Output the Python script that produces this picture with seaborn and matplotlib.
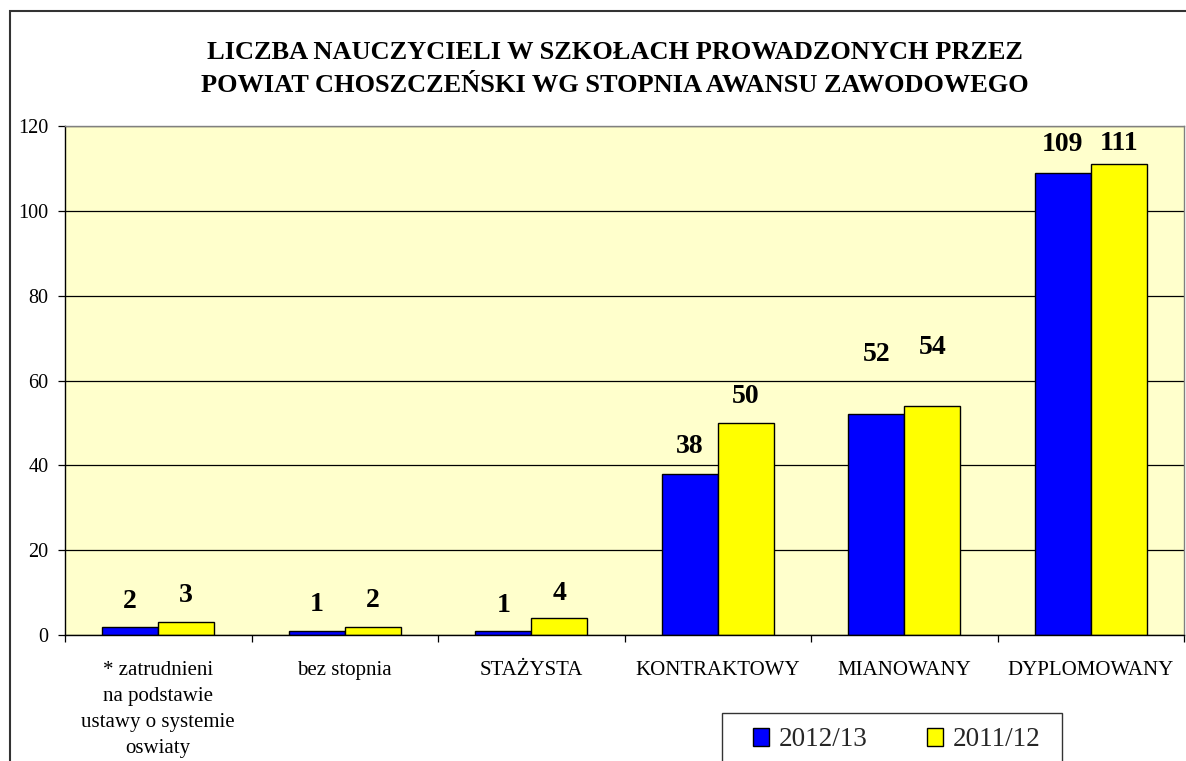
import pandas as pd
import seaborn as sns
import matplotlib.pyplot as plt
from matplotlib.patches import Rectangle
from matplotlib.ticker import FixedLocator

# data
categories = [
    "* zatrudnieni\nna podstawie\nustawy o systemie\noswiaty",
    "bez stopnia",
    "STAŻYSTA",
    "KONTRAKTOWY",
    "MIANOWANY",
    "DYPLOMOWANY",
]
series = ["2012/13", "2011/12"]
values_2012 = [2, 1, 1, 38, 52, 109]
values_2011 = [3, 2, 4, 50, 54, 111]

# label offsets above bar tops, in pixels (Excel had them moved by hand)
offsets_2012 = [25, 26, 25, 27, 60, 28]
offsets_2011 = [27, 26, 25, 26, 58, 21]

df = pd.DataFrame({
    "kategoria": categories * 2,
    "rok": [series[0]] * len(categories) + [series[1]] * len(categories),
    "liczba": values_2012 + values_2011,
})

sns.set_theme(style="white")
plt.rcParams["font.family"] = ["Liberation Serif", "DejaVu Serif"]

fig = plt.figure(figsize=(11.86, 7.61), dpi=100)
ax = fig.add_axes([65 / 1186, 1 - 635 / 761, 1119 / 1186, 509 / 761])
ax.set_facecolor("#FFFFCC")

sns.barplot(
    data=df, x="kategoria", y="liczba", hue="rok",
    order=categories, hue_order=series,
    palette={"2012/13": "#0000FF", "2011/12": "#FFFF00"},
    saturation=1, width=0.6, edgecolor="black", linewidth=1.0,
    errorbar=None, ax=ax, legend=True,
)

ax.set_xlim(-0.5, len(categories) - 0.5)
ax.set_ylim(0, 120)
ax.set_yticks(range(0, 121, 20))
ax.yaxis.grid(True, color="black", linewidth=0.9)
ax.set_axisbelow(True)
ax.set_xlabel("")
ax.set_ylabel("")

# ticks: y ticks outward on the left, x ticks between categories
ax.tick_params(axis="y", which="major", left=True, length=5, width=0.9,
               color="black", pad=7, labelsize=14.5, labelcolor="black")
ax.tick_params(axis="x", which="major", bottom=False, length=0, pad=18.5,
               labelsize=15, labelcolor="black")
ax.set_xticks(range(len(categories)), categories, linespacing=1.5)
ax.xaxis.set_minor_locator(FixedLocator([i + 0.5 for i in range(-1, len(categories))]))
ax.tick_params(axis="x", which="minor", bottom=True, length=5, width=0.9, color="black")

for side in ["left", "bottom"]:
    ax.spines[side].set_color("black")
    ax.spines[side].set_linewidth(1.0)
for side in ["top", "right"]:
    ax.spines[side].set_color("#808080")
    ax.spines[side].set_linewidth(1.0)

# value labels
for container, offsets in zip(ax.containers, [offsets_2012, offsets_2011]):
    for bar, off in zip(container, offsets):
        h = bar.get_height()
        ax.annotate(f"{h:.0f}", (bar.get_x() + bar.get_width() / 2, h),
                    xytext=(0, off), textcoords="offset pixels",
                    ha="center", va="center", fontsize=20, fontweight="bold",
                    color="black", annotation_clip=False)

# title
fig.text(615 / 1186, 1 - 69 / 761,
         "LICZBA NAUCZYCIELI W SZKOŁACH PROWADZONYCH PRZEZ\n"
         "POWIAT CHOSZCZEŃSKI WG STOPNIA AWANSU ZAWODOWEGO",
         ha="center", va="center", fontsize=19, fontweight="bold",
         linespacing=1.55, color="black")

# legend: frame drawn separately so its bottom runs off the picture
ax.get_legend().remove()
handles = [Rectangle((0, 0), 1, 1, facecolor=c, edgecolor="black", linewidth=1.0)
           for c in ["#0000FF", "#FFFF00"]]
fig.legend(handles, series, loc="center left",
           bbox_to_anchor=(753 / 1186, 1 - 740 / 761),
           ncol=2, fontsize=19.5, frameon=False,
           handlelength=0.6, handleheight=0.6, handletextpad=0.35,
           columnspacing=2.2, borderpad=0, borderaxespad=0)
fig.patches.append(Rectangle((722 / 1186, -0.05), 340 / 1186, 0.05 + 1 - 713 / 761,
                             transform=fig.transFigure, facecolor="white",
                             edgecolor="#333333", linewidth=1.0, zorder=0))

# outer chart border
fig.patches.append(Rectangle((10 / 1186, -0.05), 1.1, 1 - 11 / 761 + 0.05,
                             transform=fig.transFigure, fill=False,
                             edgecolor="#333333", linewidth=1.5))

fig.savefig("out.png", dpi=100)
